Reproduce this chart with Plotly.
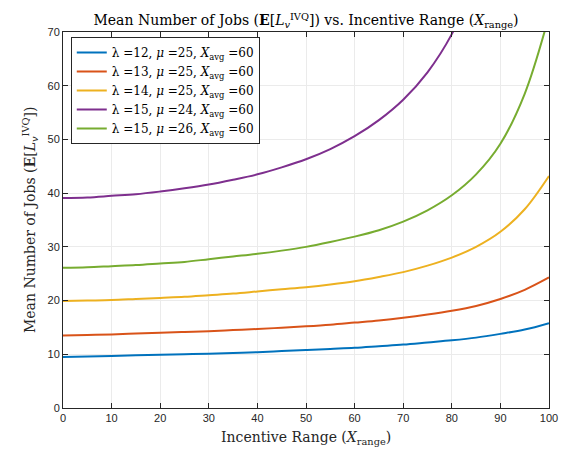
import plotly.graph_objects as go

x_vals = [0, 5, 10, 15, 20, 25, 30, 35, 40, 45, 50, 55, 60, 65, 70, 75, 80, 85, 90, 95, 100]
y_blue = [9.5, 9.6, 9.7, 9.8, 9.9, 10.0, 10.1, 10.25, 10.4, 10.6, 10.8, 11.0, 11.2, 11.5, 11.8, 12.2, 12.6, 13.1, 13.8, 14.6, 15.8]
y_red = [13.5, 13.6, 13.7, 13.85, 14.0, 14.15, 14.3, 14.5, 14.7, 14.95, 15.2, 15.5, 15.9, 16.3, 16.8, 17.4, 18.1, 19.0, 20.3, 22.0, 24.3]
y_yellow = [19.9, 20.0, 20.1, 20.3, 20.5, 20.7, 21.0, 21.3, 21.7, 22.1, 22.5, 23.0, 23.6, 24.4, 25.3, 26.5, 28.0, 30.0, 32.8, 37.0, 43.2]
x_purple = [0, 5, 10, 15, 20, 25, 30, 35, 40, 45, 50, 55, 60, 65, 70, 75, 80, 85]
y_purple = [39.1, 39.2, 39.5, 39.8, 40.3, 40.9, 41.6, 42.5, 43.5, 44.8, 46.3, 48.2, 50.6, 53.6, 57.4, 62.5, 69.6, 80.0]
y_green = [26.1, 26.2, 26.4, 26.6, 26.9, 27.2, 27.7, 28.2, 28.7, 29.3, 30.0, 30.9, 31.9, 33.1, 34.7, 36.8, 39.6, 43.5, 49.2, 58.5, 73.0]

names = [
    "λ =12, <i>μ</i> =25, <i>X</i><sub>avg</sub> =60",
    "λ =13, <i>μ</i> =25, <i>X</i><sub>avg</sub> =60",
    "λ =14, <i>μ</i> =25, <i>X</i><sub>avg</sub> =60",
    "λ =15, <i>μ</i> =24, <i>X</i><sub>avg</sub> =60",
    "λ =15, <i>μ</i> =26, <i>X</i><sub>avg</sub> =60",
]
colors = ["#0072BD", "#D95319", "#EDB120", "#7E2F8E", "#77AC30"]
series = [(x_vals, y_blue), (x_vals, y_red), (x_vals, y_yellow), (x_purple, y_purple), (x_vals, y_green)]

x_ticks = list(range(0, 101, 10))
y_ticks = list(range(0, 71, 10))

fig = go.Figure()
for (xs, ys), nm, c in zip(series, names, colors):
    fig.add_trace(go.Scatter(x=xs, y=ys, mode="lines", name=nm,
                             line=dict(color=c, width=2, shape="spline", smoothing=1.0)))

serif = "DejaVu Serif, serif"
axis_common = dict(
    showline=True, linecolor="#262626", linewidth=1, mirror="ticks",
    ticks="inside", ticklen=5, tickcolor="#262626",
    showgrid=True, gridcolor="#ebebeb", gridwidth=1, zeroline=False,
    automargin=False,
    tickfont=dict(family="Liberation Sans, Arial, sans-serif", size=11, color="#262626"),
)
fig.update_layout(
    width=562, height=447,
    margin=dict(l=55, r=21, t=24, b=47),
    paper_bgcolor="white", plot_bgcolor="white",
    title=dict(text="Mean Number of Jobs (<b>E</b>[<i>L</i><sub><i>v</i></sub><sup>IVQ</sup>]) vs. Incentive Range (<i>X</i><sub>range</sub>)",
               xref="paper", x=0.5, xanchor="center", y=0.972, yanchor="middle",
               font=dict(family=serif, size=14, color="black")),
    xaxis=dict(range=[0, 100], tickvals=x_ticks, **axis_common),
    yaxis=dict(range=[0, 70], tickvals=y_ticks, **axis_common),
    legend=dict(x=0.016, y=0.987, xanchor="left", yanchor="top",
                bgcolor="white", bordercolor="#262626", borderwidth=1,
                font=dict(family=serif, size=12, color="black"),
                tracegroupgap=0),
    showlegend=True,
    annotations=[
        dict(text="Incentive Range (<i>X</i><sub>range</sub>)", xref="paper", yref="paper",
             x=0.5, y=0, xanchor="center", yanchor="middle", yshift=-30, showarrow=False,
             font=dict(family=serif, size=14, color="#262626")),
        dict(text="Mean Number of Jobs (<b>E</b>[<i>L</i><sub><i>v</i></sub><sup>IVQ</sup>])", xref="paper", yref="paper",
             x=0, y=0.5, xanchor="center", yanchor="middle", xshift=-33, textangle=-90, showarrow=False,
             font=dict(family=serif, size=14, color="#262626")),
    ],
)
fig.write_html("out.html")
